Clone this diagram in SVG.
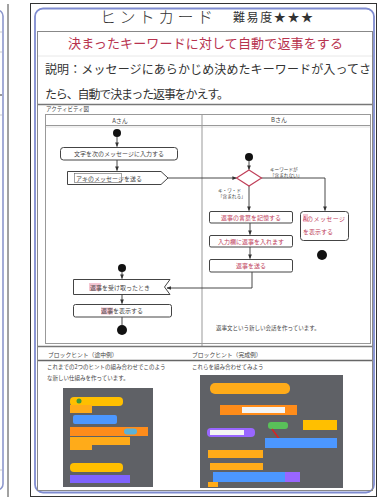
<svg xmlns="http://www.w3.org/2000/svg" width="386" height="500" viewBox="0 0 386 500">
<defs>
<marker id="ar" viewBox="0 0 6 6" refX="5.5" refY="3" markerWidth="5" markerHeight="5" orient="auto-start-reverse"><path d="M0,0.5 L6,3 L0,5.5 Z" fill="#333"/></marker>
<style>
.jp{font-family:"Noto Sans CJK JP","Noto Sans",sans-serif}
.ln{stroke:#999;stroke-width:1;fill:none}
.ln2{stroke:#777;stroke-width:1.4;fill:none}
.box{fill:#fff;stroke:#444;stroke-width:1}
.con{stroke:#333;stroke-width:0.9;fill:none}
.s{font-size:6px;fill:#444}
.r{fill:#c0405a}
.t{font-size:4.6px;fill:#444}
</style>
</defs>
<rect width="386" height="500" fill="#fff"/>
<!-- left partial page -->
<rect x="-20" y="10" width="23" height="480" rx="6" fill="none" stroke="#8d97cc" stroke-width="1.6"/>
<line x1="8" y1="4" x2="8" y2="497" stroke="#444" stroke-width="1"/>
<g stroke="#bbb" stroke-width="0.8"><line x1="0" y1="32" x2="2" y2="32"/><line x1="0" y1="52" x2="2" y2="52"/><line x1="0" y1="115" x2="2" y2="115"/><line x1="0" y1="470" x2="2" y2="470"/></g>
<line x1="0" y1="95" x2="2" y2="95" stroke="#333" stroke-width="1"/>
<!-- main page frames -->
<rect x="30.5" y="3.5" width="346" height="493" fill="#fff" stroke="#333" stroke-width="1"/>
<rect x="35" y="8.5" width="339" height="484" rx="8" fill="none" stroke="#7f8cd0" stroke-width="1.8"/>
<!-- title -->
<text class="jp" x="100" y="23" font-size="16" font-weight="300" fill="#333" textLength="113">ヒントカード</text>
<text class="jp" x="233" y="22" font-size="12" fill="#333" textLength="80">難易度★★★</text>
<!-- table -->
<rect x="37.5" y="31.5" width="335" height="459" fill="none" stroke="#888" stroke-width="1"/>
<line x1="38" y1="56" x2="372" y2="56" stroke="#e2e2e2" stroke-width="0.8"/>
<text class="jp" x="68" y="48" font-size="13" fill="#b8334f" textLength="275">決まったキーワードに対して自動で返事をする</text>
<text class="jp" x="45" y="73.5" font-size="12" fill="#333" textLength="326">説明：メッセージにあらかじめ決めたキーワードが入ってさ</text>
<text class="jp" x="45" y="98.5" font-size="12" fill="#333" textLength="184">たら、自動で決まった返事をかえす。</text>
<line x1="38" y1="104.5" x2="372" y2="104.5" class="ln2"/>
<text class="jp" x="46" y="110.5" font-size="5.5" fill="#444">アクティビティ図</text>
<!-- swimlanes -->
<rect x="45.5" y="114.5" width="325" height="229" fill="none" stroke="#999" stroke-width="1"/>
<line x1="46" y1="125.5" x2="370" y2="125.5" class="ln"/>
<line x1="46" y1="127" x2="370" y2="127" stroke="#ccc" stroke-width="0.6"/>
<line x1="202" y1="115" x2="202" y2="346" class="ln"/>
<text class="jp" x="120" y="122.5" font-size="6" fill="#444" text-anchor="middle">Aさん</text>
<text class="jp" x="279" y="122" font-size="6" fill="#444" text-anchor="middle">Bさん</text>
<!-- connectors -->
<g id="connectors">
<line class="con" x1="117" y1="137" x2="117" y2="146.5" marker-end="url(#ar)"/>
<line class="con" x1="117" y1="160" x2="117" y2="170.5" marker-end="url(#ar)"/>
<line class="con" x1="168" y1="178" x2="236.5" y2="178" marker-end="url(#ar)"/>
<line class="con" x1="249" y1="161" x2="249" y2="169.5" marker-end="url(#ar)"/>
<polyline class="con" points="261,178 325,178 325,210.5" marker-end="url(#ar)"/>
<line class="con" x1="249" y1="186" x2="249" y2="210.5" marker-end="url(#ar)"/>
<line class="con" x1="250" y1="223" x2="250" y2="234.5" marker-end="url(#ar)"/>
<line class="con" x1="250" y1="247" x2="250" y2="258.5" marker-end="url(#ar)"/>
<polyline class="con" points="252,272 252,288 167,288" marker-end="url(#ar)"/>
<line class="con" x1="122" y1="272" x2="122" y2="278.5" marker-end="url(#ar)"/>
<line class="con" x1="122" y1="295" x2="122" y2="303.5" marker-end="url(#ar)"/>
<line class="con" x1="122" y1="317" x2="122" y2="325" />
</g>
<!-- A lane nodes -->
<g id="a-start"><circle cx="117" cy="133" r="4" fill="#111"/></g>
<g id="a-input"><rect class="box" x="60.5" y="147.5" width="117" height="12.5" rx="3"/><text class="jp s" x="119" y="156" text-anchor="middle">文字を次のメッセージに入力する</text></g>
<g id="a-send"><polygon class="box" points="67.5,171.5 161,171.5 168,178 161,184.5 67.5,184.5"/><rect x="74.5" y="173.5" width="47" height="9" fill="none" stroke="#666" stroke-width="0.6"/><text class="jp s" x="76" y="180.8">アキのメッセージを送る</text></g>
<g id="a-start2"><circle cx="122" cy="268" r="4" fill="#111"/></g>
<g id="a-receive"><polygon class="box" points="73.5,279.5 170,279.5 164.5,287 170,294.5 73.5,294.5"/><rect x="89" y="283" width="12" height="8" fill="#f4c6d2"/><text class="jp s" x="120" y="289.5" text-anchor="middle">返事を受け取ったとき</text></g>
<g id="a-show"><rect class="box" x="73.5" y="304.5" width="98" height="12.5" rx="2"/><rect x="101" y="307.5" width="12" height="7" fill="#f4c6d2"/><text class="jp s" x="122" y="313" text-anchor="middle">返事を表示する</text></g>
<g id="a-end"><circle cx="122" cy="330" r="5" fill="#111"/></g>
<!-- B lane nodes -->
<g id="b-start"><circle cx="249" cy="157" r="4" fill="#111"/></g>
<g id="b-decision"><polygon points="249,170 261.5,178 249,186 236.5,178" fill="#fff" stroke="#c0405a" stroke-width="1.2"/>
<text class="jp t" x="270" y="170.5">キーワードが</text><text class="jp t" x="270" y="176.5">「含まれない」</text>
<text class="jp t" x="218" y="191.5">キ・ワ・ド</text><text class="jp t" x="218" y="197.5">「含まれる」</text></g>
<g id="b-memo"><rect class="box" x="209.5" y="211.5" width="83" height="11.5" rx="1.5"/><text class="jp s r" x="251" y="219.5" text-anchor="middle">返事の言葉を記憶する</text></g>
<g id="b-set"><rect class="box" x="209.5" y="235.5" width="83" height="11.5" rx="1.5"/><text class="jp s r" x="251" y="243.5" text-anchor="middle">入力欄に返事を入れます</text></g>
<g id="b-sendreply"><rect class="box" x="209.5" y="259.5" width="83" height="12.5" rx="1.5"/><text class="jp s r" x="251" y="268" text-anchor="middle">返事を送る</text></g>
<g id="b-show"><rect class="box" x="300.5" y="211.5" width="48" height="29" rx="3"/><rect x="303" y="214" width="5" height="8" fill="#f4c6d2"/><text class="jp s r" x="303" y="220.5" font-size="5.6" textLength="42">Aのメッセージ</text><text class="jp s r" x="303" y="234" font-size="5.6">を表示する</text></g>
<g id="b-end"><circle cx="322" cy="255" r="5" fill="#111"/></g>
<text class="jp" x="216" y="330" font-size="5.5" fill="#444">返事文という新しい会話を作っています。</text>
<!-- bottom -->
<line x1="38" y1="346.5" x2="372" y2="346.5" class="ln2"/>
<text class="jp" x="48" y="356.5" font-size="5.8" fill="#444">ブロックヒント（途中例）</text>
<text class="jp" x="192" y="356.5" font-size="5.8" fill="#444">ブロックヒント（完成例）</text>
<line x1="38" y1="360.5" x2="372" y2="360.5" stroke="#666" stroke-width="1.6"/>
<text class="jp" x="47" y="368.5" font-size="5.5" fill="#444">これまでの2つのヒントの組み合わせでこのよう</text>
<text class="jp" x="47" y="380" font-size="5.5" fill="#444">な新しい仕組みを作っています。</text>
<text class="jp" x="192" y="368.5" font-size="5.5" fill="#444">これらを組み合わせてみよう</text>
<!-- scratch left -->
<rect x="63" y="388" width="90" height="99" fill="#5f6166"/>
<rect x="70" y="397" width="53" height="9" rx="4" fill="#ffbf00"/>
<circle cx="79" cy="401" r="2.5" fill="#3c9a3c"/>
<rect x="70" y="405" width="22" height="8" fill="#ffab19"/>
<rect x="73" y="415" width="44" height="9" rx="2" fill="#4c97ff"/>
<rect x="70" y="427" width="78" height="9" fill="#ff8c1a"/>
<rect x="124" y="428.5" width="13" height="6" rx="3" fill="#5cb1d6"/>
<rect x="70" y="437" width="60" height="8" fill="#ffab19"/>
<rect x="70" y="445" width="22" height="5" fill="#ffab19"/>
<rect x="70" y="463" width="53" height="9" rx="4" fill="#ffbf00"/>
<rect x="70" y="475" width="60" height="8" fill="#7f63ff"/>
<!-- scratch right -->
<rect x="200" y="375" width="143" height="113" fill="#5f6166"/>
<rect x="210" y="383" width="80" height="11" rx="5" fill="#ffab19"/>
<rect x="220" y="405" width="77" height="10" fill="#ff8c1a"/>
<rect x="242" y="407" width="43" height="6" fill="#f4f4f4"/>
<rect x="268" y="422" width="20" height="7" rx="3" fill="#59c059"/>
<rect x="303" y="420" width="34" height="10" fill="#ffbf00"/>
<rect x="207" y="428" width="48" height="9" rx="4" fill="#9966ff"/>
<rect x="210" y="430" width="34" height="5" fill="#f4f4f4"/>
<path d="M272,429 L280,440" stroke="#e02020" stroke-width="1.4"/>
<rect x="265" y="438" width="72" height="10" fill="#4c97ff"/>
<rect x="208" y="450" width="55" height="8" fill="#ffab19"/>
<rect x="210" y="463" width="53" height="7" fill="#ffab19"/>
<rect x="213" y="472" width="87" height="10" fill="#4c97ff"/>
<rect x="285" y="472" width="15" height="10" fill="#9966ff"/>
<rect x="208" y="482" width="10" height="5" fill="#ffab19"/>
</svg>
